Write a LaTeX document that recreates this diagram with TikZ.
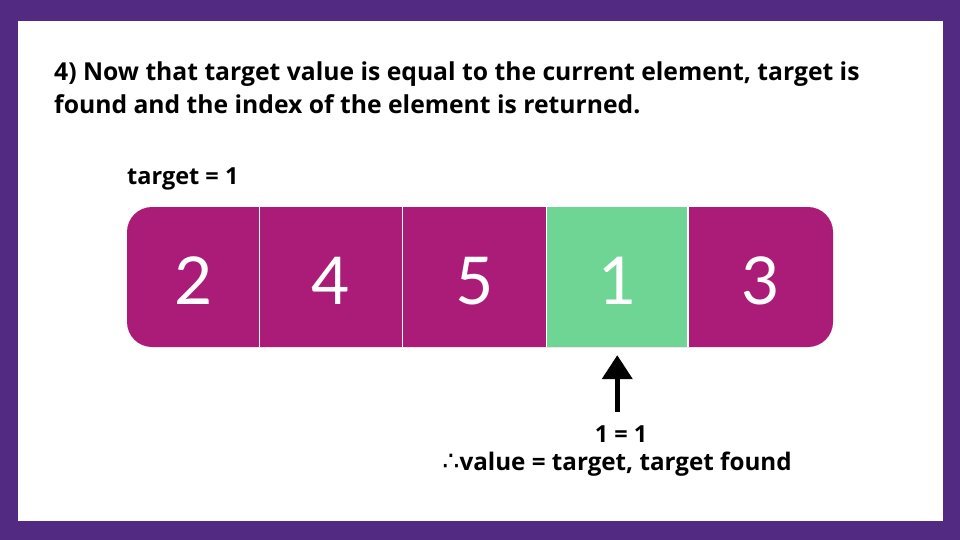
\documentclass[tikz,border=0pt]{standalone}
\usepackage{fontspec}
\setmainfont{Open Sans}
\newfontfamily\numfont{Lato}
\newfontfamily\symfont{DejaVu Sans}
\usepackage{xcolor}
\definecolor{colFrame}{HTML}{522A82}
\definecolor{colCell}{HTML}{AB1C78}
\definecolor{colFound}{HTML}{6FD595}
\usetikzlibrary{arrows.meta, positioning}

\begin{document}
\begin{tikzpicture}[x=1pt, y=-1pt,
	cell/.style={minimum height=140pt, inner sep=0pt, text=white, text height=54.5pt, text depth=0pt, font=\numfont\fontsize{66}{66}\selectfont},
	txt/.style={inner sep=0pt, font=\bfseries\fontsize{23.5}{28}\selectfont}]
	\useasboundingbox (0,0) rectangle (960,540);
	\fill[colFrame] (0,0) rectangle (960,540);
	\fill[white] (18,21) rectangle (943,521);
	% heading
	\node[txt, anchor=base west, align=left, font=\bfseries\fontsize{24.7}{33}\selectfont] (title) at (54,114)
		{4) Now that target value is equal to the current element, target is\\found and the index of the element is returned.};
	\node[txt, anchor=base west] (tgt) at (127,184) {target = 1};
	% array
	\fill[colCell, rounded corners=25pt] (127,207) rectangle (833,347);
	\foreach \i/\l/\r/\v in {1/127/259.5/2, 2/259.5/402.5/4, 3/402.5/546.5/5, 4/546.5/688/1, 5/688/833/3}
		\node[cell, minimum width={\r-\l}] (c\i) at ({(\l+\r)/2},277) {\v};
	\fill[colFound] (c4.north west) rectangle (c4.south east);
	\node[cell] at (c4) {1};
	\foreach \i in {1,...,4}
		\draw[white, line width=1.5pt] (c\i.north east) -- (c\i.south east);
	% result
	\node[txt, anchor=base] (eq) at (621,442) {1 = 1};
	\node[txt, anchor=base, font=\bfseries\fontsize{24.2}{28}\selectfont] (res) at (617,470) {{\symfont\mdseries\fontsize{27}{28}\selectfont ∴}value = target, target found};
	\draw[-{Triangle[width=30pt,length=24pt]}, line width=4.5pt, shorten <=13pt, shorten >=8pt]
		(c4.south |- eq.north) -- (c4.south);
\end{tikzpicture}
\end{document}
